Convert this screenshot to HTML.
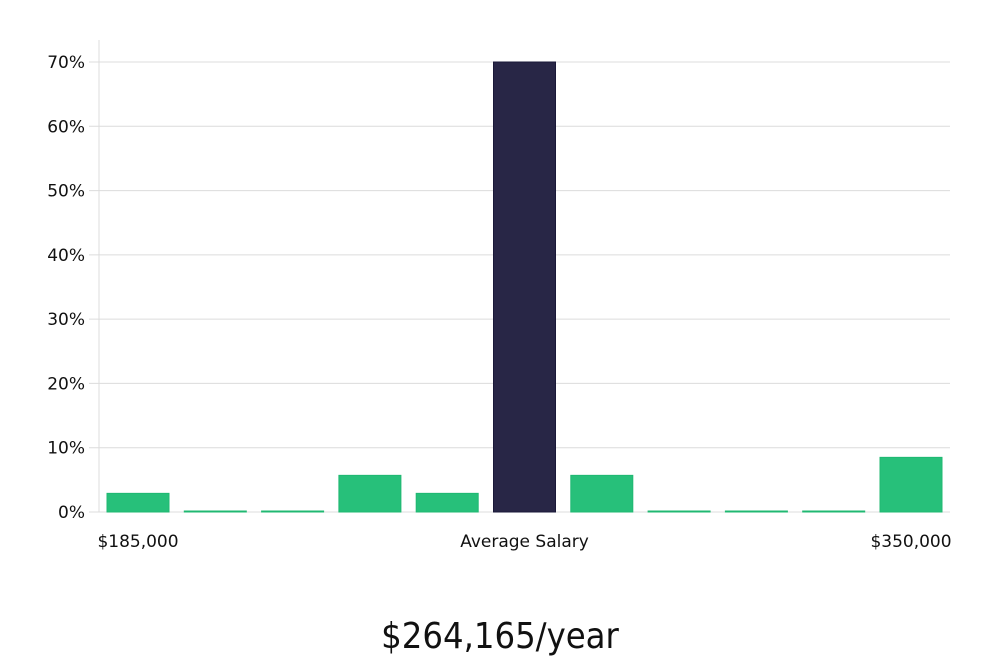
<!DOCTYPE html>
<html><head><meta charset="utf-8"><style>
body{margin:0;background:#fff;width:1000px;height:660px;overflow:hidden}
text{font-family:"DejaVu Sans","Liberation Sans",sans-serif}
</style></head><body>
<svg id="chart" width="1000" height="660" xmlns="http://www.w3.org/2000/svg">
<g id="grid"></g><g id="bars"></g><g id="labels"></g>
<text x="500" y="648" text-anchor="middle" font-size="36" font-weight="300" fill="#111" style="font-family:'DejaVu Sans Condensed','DejaVu Sans',sans-serif;font-weight:200">$264,165/year</text>
</svg>
<script>
const categories = ["b1","b2","b3","b4","b5","b6","b7","b8","b9","b10","b11"];
const values = [2.9, 0, 0, 5.7, 2.9, 70, 5.7, 0, 0, 0, 8.5];
const highlight = [false,false,false,false,false,true,false,false,false,false,false];
const yTicks = [0,10,20,30,40,50,60,70];
const xLabels = ["$185,000","Average Salary","$350,000"];
const NS="http://www.w3.org/2000/svg";
const y0=512, yScale=(512-62)/70;
const y=v=>y0-v*yScale;
const x=i=>107+i*((880-107)/10);
const bw=62;
function mk(t,a,p){const e=document.createElementNS(NS,t);for(const k in a)e.setAttribute(k,a[k]);p.appendChild(e);return e;}
const g=document.getElementById('grid');
const axis=mk('line',{x1:99,x2:99,y1:40,y2:512,stroke:'#ddd','stroke-width':1},g);


yTicks.forEach(t=>{
  const l=mk('line',{x1:89,x2:950,y1:y(t),y2:y(t),stroke:'#dcdcdc','stroke-width':1},g);
  
  
  const tx=mk('text',{x:85,y:y(t)+6,'text-anchor':'end','font-size':17,fill:'#111'},g);
  tx.textContent=t+'%';
  
  
});
const b=document.getElementById('bars');
values.forEach((v,i)=>{
  const h=Math.max(1,v*yScale);
  const r=mk('rect',{x:x(i),y:y0-h,width:bw,height:h,fill:highlight[i]?'#282646':'#27c07a',stroke:highlight[i]?'#1a1838':'#20b872','stroke-width':1},b);
  
  
});
const lg=document.getElementById('labels');
const lx=[{x:x(0)+bw/2,t:xLabels[0]},{x:x(5)+bw/2,t:xLabels[1]},{x:x(10)+bw/2,t:xLabels[2]}];
lx.forEach(o=>{
  const tx=mk('text',{x:o.x,y:547,'text-anchor':'middle','font-size':17,fill:'#111'},lg);
  tx.textContent=o.t;
  
  
});
</script>
</body></html>
